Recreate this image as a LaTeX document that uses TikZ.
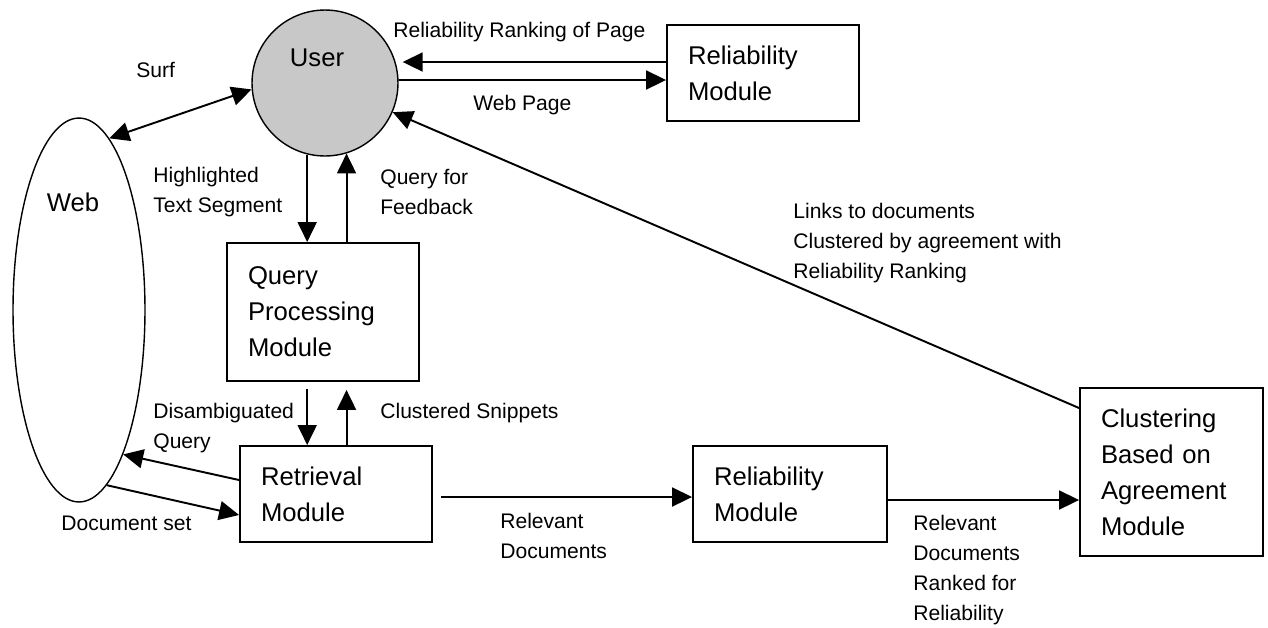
\documentclass[tikz,border=0pt]{standalone}
\usepackage{fontspec}
\setmainfont{Liberation Sans}
\usetikzlibrary{arrows.meta,shapes.geometric}
\definecolor{usergray}{RGB}{200,200,200}
\begin{document}
\begin{tikzpicture}[x=0.02cm,y=-0.02cm,
  ln/.style={line width=1.1pt},
  thin ln/.style={line width=0.8pt},
  tip/.tip={Triangle[length=0.4cm,width=0.38cm]},
  arr/.style={ln,-tip},
  darr/.style={ln,tip-tip},
  lbl/.style={font=\fontsize{12pt}{17pt}\selectfont,inner sep=0pt,anchor=west,align=left},
  big/.style={font=\fontsize{14.6pt}{20.5pt}\selectfont},
  mod/.style={draw,ln,big,inner xsep=0.42cm,inner ysep=0pt,align=left,anchor=center},
]
\useasboundingbox (0,0) rectangle (1268,627);

% nodes
\node[circle,draw,thin ln,fill=usergray,minimum size=2.92cm,inner sep=0pt] (user) at (325,83) {};
\node[big,inner sep=0pt] (usertxt) at (317,58) {User};
\node[ellipse,draw,thin ln,minimum width=2.64cm,minimum height=7.68cm,inner sep=0pt] (web) at (79,310) {};
\node[big,inner sep=0pt] (webtxt) at (73,202) {Web};

\node[mod,text width=3.0cm,minimum height=1.92cm] (rtop) at (763,73) {Reliability\\Module};
\node[mod,text width=3.0cm,minimum height=2.76cm] (qpm) at (323,312) {Query\\Processing\\Module};
\node[mod,text width=3.0cm,minimum height=1.92cm] (ret) at (336,494) {Retrieval\\Module};
\node[mod,text width=3.04cm,minimum height=1.92cm] (rbot) at (790,494) {Reliability\\Module};
\node[mod,text width=2.82cm,minimum height=3.36cm] (clu) at (1171.5,472) {Clustering\\Based on\\Agreement\\Module};

% labels
\node[lbl] (lsurf) at (136,70) {Surf};
\node[lbl] (lrrp) at (393,32) {Reliability Ranking of Page};
\node[lbl] (lwp) at (473,105) {Web Page};
\node[lbl] (lhts) at (153,192) {Highlighted\\Text Segment};
\node[lbl] (lqff) at (380,192) {Query for\\Feedback};
\node[lbl] (ldq) at (153,428) {Disambiguated\\Query};
\node[lbl] (lcs) at (380,413) {Clustered Snippets};
\node[lbl] (lds) at (61,523) {Document set};
\node[lbl] (lrd) at (500,536) {Relevant\\Documents};
\node[lbl] (lrdr) at (913,570) {Relevant\\Documents\\Ranked for\\Reliability};
\node[lbl] (llinks) at (793,243) {Links to documents\\Clustered by agreement with\\Reliability Ranking};

% connectors
\draw[arr] ([yshift=0.22cm]rtop.west) -- ([yshift=0.42cm,xshift=0.08cm]user.east);
\draw[arr] ([yshift=0.06cm]user.east) -- ([yshift=-0.14cm]rtop.west);
\draw[darr] (web.80) -- (user.185);
\draw[arr] (user.256.5) -- (user.256.5 |- qpm.north);
\draw[arr] (user.287.5 |- qpm.north) -- (user.287.5);
\draw[arr,shorten <=0.14cm] (user.256.5 |- qpm.south) -- (user.256.5 |- ret.north);
\draw[arr,shorten >=0.16cm] (user.287.5 |- ret.north) -- (user.287.5 |- qpm.south);
\draw[arr] ([yshift=0.28cm]ret.west) -- (web.287);
\draw[arr] (web.279.5) -- ([yshift=-0.42cm]ret.west);
\draw[arr,shorten <=0.16cm] ([yshift=-0.06cm]ret.east) -- ([yshift=-0.06cm]rbot.west);
\path ([yshift=-0.12cm]rbot.east) coordinate (r2);
\draw[arr] (r2) -- (r2 -| clu.west);
\draw[arr] ([yshift=1.28cm]clu.west) -- (user);
\end{tikzpicture}
\end{document}
